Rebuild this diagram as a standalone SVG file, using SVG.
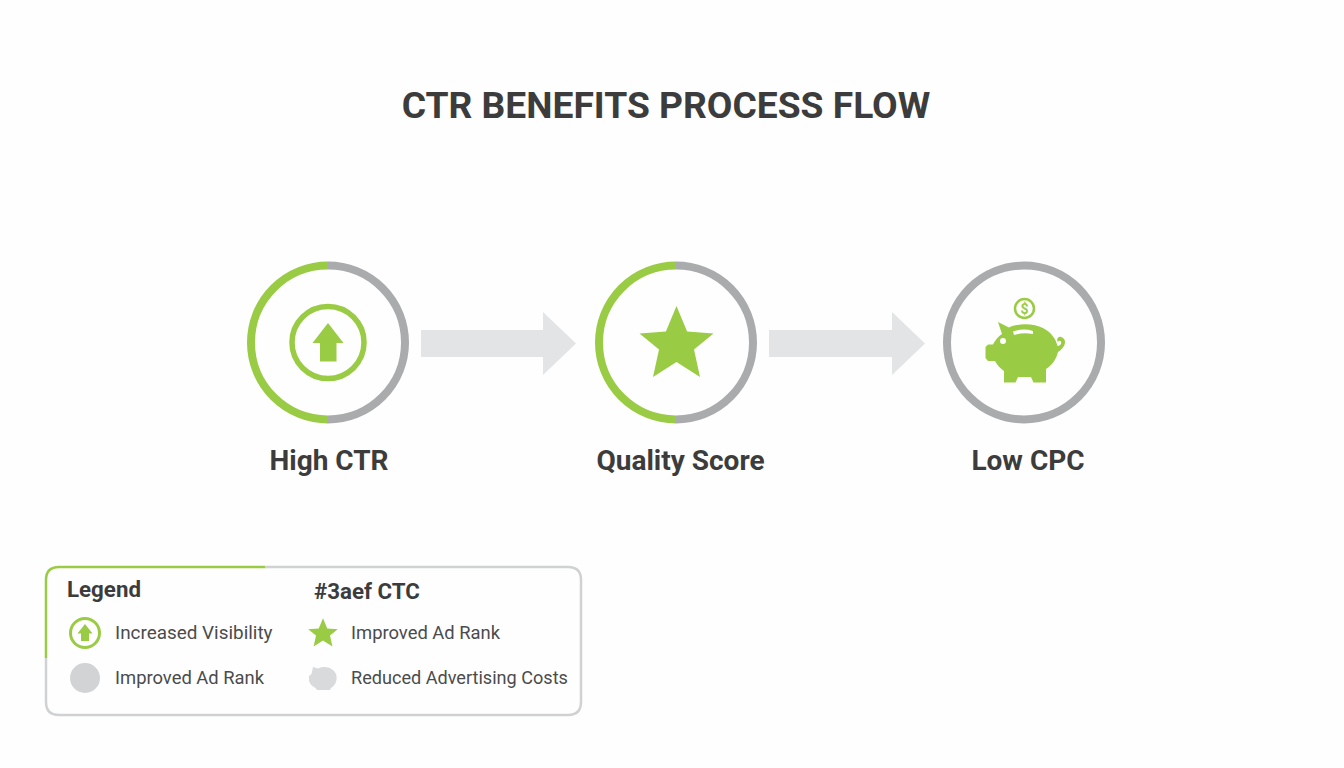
<svg xmlns="http://www.w3.org/2000/svg" width="1344" height="768" viewBox="0 0 1344 768">
<style>
text{font-family:Roboto,"Liberation Sans",sans-serif;fill:#3c3c3c}
.t{font-size:37.200px;font-weight:700;text-anchor:middle}
.n{font-size:28px;font-weight:700;text-anchor:middle}
.h{font-size:22.300px;font-weight:700}
.l{font-weight:400;fill:#4a4c4c}
.g{fill:none;stroke:#9acb44;stroke-width:8}
.y{fill:none;stroke:#a9abac;stroke-width:8}
.f{fill:#9acb44}
.a{fill:#e2e4e5}
</style>
<defs>
<path id="star" d="M0-37 L10.600-11.500 L37-9.500 L17.500 6.500 L23.500 34 L0 19 L-23.500 34 L-17.500 6.500 L-37-9.500 L-10.600-11.500Z" stroke-linejoin="round"/>
</defs>
<rect width="1344" height="768" fill="#fefefe"/>
<text class="t" x="666" y="118">CTR BENEFITS PROCESS FLOW</text>
<g id="connectors">
<path class="a" d="M421 330H543V312L576 343.500L543 375V357H421Z"/>
<path class="a" d="M769 330H892V312L925 343.500L892 375V357H769Z"/>
</g>
<g id="node-high-ctr">
<path class="y" d="M328 265.500A77 77 0 0 1 328 419.500"/>
<path class="g" d="M328 419.500A77 77 0 0 1 328 265.500"/>
<circle class="g" cx="328" cy="342.500" r="36" style="stroke-width:5.500"/>
<path class="f" d="M328 323L343.500 343H336.500V361.500H320V343H312.500Z"/>
<text class="n" x="329" y="470">High CTR</text>
</g>
<g id="node-quality-score">
<path class="y" d="M676 265.500A77 77 0 0 1 676 419.500"/>
<path class="g" d="M676 419.500A77 77 0 0 1 676 265.500"/>
<use href="#star" x="676.500" y="343" class="f"/>
<text class="n" x="680.500" y="470">Quality Score</text>
</g>
<g id="node-low-cpc">
<circle class="y" cx="1024" cy="342.500" r="77"/>
<circle cx="1024.500" cy="308.500" r="9.500" fill="none" stroke="#9acb44" stroke-width="2.500"/>
<text x="1024.500" y="313.500" text-anchor="middle" style="font-size:14px;font-weight:700;fill:#9acb44">$</text>
<path class="f" d="M998 322L1009 327.500C1018 323 1034 323 1043 328C1051 332 1056 339 1057.500 346C1060 346 1062 344 1061 341.500C1060 340 1058 341 1058 342C1056 340 1058 336 1061 337C1065 338 1066 342 1064 346C1062 349 1060 351 1058 352C1056 360 1052 365 1046 369V382.500H1033.500L1031 377H1018L1015.500 382.500H1004V371C1000 368 997 365 995 361H988L985.500 358V347L988 344.500H993C995 340 999 336 1002 334Z"/>
<circle cx="1003" cy="341" r="3" fill="#fff"/>
<path d="M1013 331.500Q1023 328 1033 331V334Q1023 332 1014 335Z" fill="#fff"/>
<text class="n" x="1028" y="470">Low CPC</text>
</g>
<g id="legend">
<path d="M265 567H568Q581 567 581 580V702Q581 715 568 715H59Q46 715 46 702V658" fill="none" stroke="#cfd1d2" stroke-width="2.500"/>
<path d="M46 658V580Q46 567 59 567H265" fill="none" stroke="#9acb44" stroke-width="2.500"/>
<text class="h" x="67" y="597">Legend</text>
<text class="h" x="314" y="599">#3aef CTC</text>
<circle cx="85" cy="633" r="14.500" fill="none" stroke="#9acb44" stroke-width="3"/>
<path class="f" d="M85 624L92.500 633.500H89V641H81V633.500H77.500Z"/>
<text class="l" style="font-size:18.900px" x="115" y="639">Increased Visibility</text>
<circle cx="85" cy="678" r="15" fill="#d1d3d5"/>
<text class="l" style="font-size:18.400px" x="115" y="684">Improved Ad Rank</text>
<use href="#star" transform="translate(323 633) scale(.4)" class="f"/>
<text class="l" style="font-size:18.400px" x="351" y="639">Improved Ad Rank</text>
<path d="M313 667L318 668.500C326 665 333 668 336 674C338 680 335 686 331 688L330 690H317L315.500 688C312 686 310 684 309 681V676L311.500 674Z" fill="#d8dadb"/>
<text class="l" style="font-size:18.100px" x="351" y="684">Reduced Advertising Costs</text>
</g>
</svg>
